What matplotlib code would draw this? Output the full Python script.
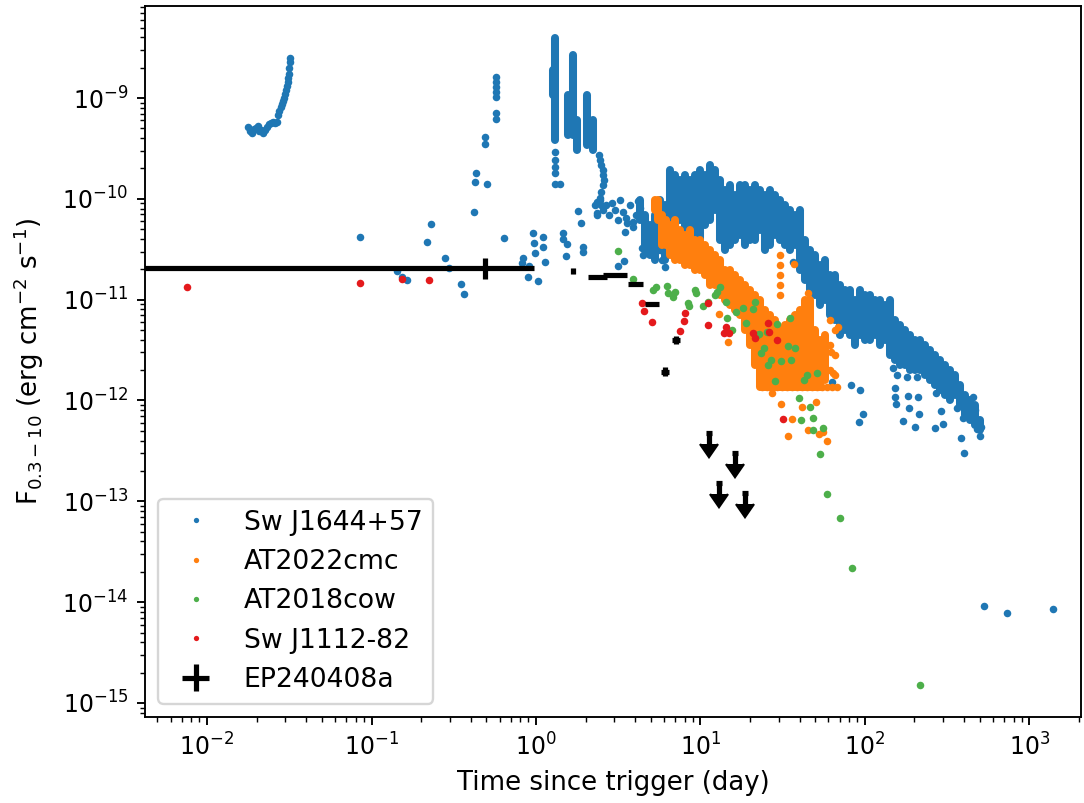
import numpy as np
import matplotlib
matplotlib.use('Agg')
import matplotlib.pyplot as plt

# ---------------- Sw J1644+57 (blue) ----------------
# early rise (< 0.04 d)
sw_early_t = [0.0178, 0.0183, 0.0188, 0.0193, 0.0199, 0.0204, 0.0207, 0.0213, 0.0219, 0.0225,
              0.0232, 0.0238, 0.0245, 0.0252, 0.0259, 0.0267, 0.0270, 0.0274, 0.0282, 0.0286,
              0.0290, 0.0294, 0.0298, 0.0302, 0.0306, 0.0311, 0.0311, 0.0315, 0.0315, 0.0320, 0.0320]
sw_early_f = [5.16e-10, 4.71e-10, 4.50e-10, 4.93e-10, 5.04e-10, 5.27e-10, 4.71e-10, 4.82e-10, 4.50e-10, 4.82e-10,
              5.16e-10, 5.52e-10, 5.65e-10, 5.78e-10, 5.65e-10, 5.78e-10, 6.78e-10, 7.43e-10, 8.15e-10, 8.71e-10,
              9.33e-10, 1.00e-9, 1.10e-9, 1.20e-9, 1.32e-9, 1.44e-9, 1.58e-9, 1.73e-9, 1.99e-9, 2.28e-9, 2.49e-9]

# scattered points 0.08 - 6 d
sw_sparse_t = [0.0851, 0.143, 0.153, 0.164, 0.217, 0.230, 0.280, 0.296, 0.350, 0.365,
               0.420, 0.426, 0.432, 0.504, 0.490, 0.490, 0.571, 0.571, 0.571, 0.571,
               0.571, 0.571, 0.571, 0.639, 0.834, 0.822, 0.894, 0.906, 0.959, 0.972,
               0.986, 1.03, 1.10, 1.10, 1.13, 1.40, 1.80, 1.88, 1.93, 1.93,
               1.46, 1.46, 1.54, 1.52, 3.48, 3.14, 3.42, 2.35, 2.35, 3.57,
               3.89, 4.41, 4.47, 4.93, 5.14, 5.67, 5.84, 6.08,
               1.31, 1.31, 1.31, 1.31, 1.31]
sw_sparse_f = [4.18e-11, 1.92e-11, 1.68e-11, 1.57e-11, 3.73e-11, 5.62e-11, 2.59e-11, 2.06e-11, 1.43e-11, 1.14e-11,
               7.40e-11, 1.47e-10, 1.80e-10, 1.40e-10, 4.10e-10, 3.50e-10, 1.61e-9, 1.44e-9, 1.29e-9, 1.15e-9,
               1.02e-9, 7.09e-10, 6.18e-10, 4.08e-11, 2.59e-11, 2.31e-11, 1.68e-11, 2.16e-11, 4.58e-11, 3.65e-11,
               2.90e-11, 1.53e-11, 4.18e-11, 3.33e-11, 2.38e-11, 1.40e-10, 7.57e-11, 5.75e-11, 3.33e-11, 2.95e-11,
               4.58e-11, 4.00e-11, 3.57e-11, 2.72e-11, 4.68e-11, 2.16e-11, 2.43e-11, 9.30e-11, 6.90e-11, 5.75e-11,
               5.20e-11, 3.25e-11, 2.77e-11, 2.90e-11, 3.75e-11, 3.11e-11, 2.47e-11, 2.10e-11,
               2.91e-10, 2.43e-10, 2.07e-10, 1.80e-10, 1.40e-10]

# decay after the flares (2.3 - 4.3 d)
sw_decay_t = [2.42, 2.45, 2.50, 2.55, 2.55, 2.60, 2.55, 2.50, 2.45, 2.50,
              2.28, 2.35, 2.45, 2.55, 2.66, 2.78, 2.90, 3.02, 3.15, 3.24,
              3.38, 3.52, 3.73, 3.89, 4.05, 4.17, 4.29]
sw_decay_f = [2.72e-10, 2.43e-10, 2.17e-10, 1.93e-10, 1.72e-10, 1.54e-10, 1.37e-10, 1.17e-10, 9.73e-11, 8.68e-11,
              8.68e-11, 7.23e-11, 1.02e-10, 7.75e-11, 8.68e-11, 6.91e-11, 9.09e-11, 7.75e-11, 6.17e-11, 9.73e-11,
              7.40e-11, 6.46e-11, 8.68e-11, 5.89e-11, 6.91e-11, 9.50e-11, 8.11e-11]

# densely sampled visits: flux range covered by the points of each visit
sw_visit_t = [1.27, 1.31, 1.57, 1.68, 1.77, 2.04, 2.22,
              4.29, 4.60, 4.93, 5.29, 5.67, 6.08, 6.53, 7.00, 7.50, 8.05,
              8.63, 9.26, 9.93, 10.6, 11.4, 12.2, 13.1, 14.1, 15.1, 16.2,
              17.4, 18.7, 20.0, 21.4, 23.0, 24.7, 26.4, 28.4, 30.4, 32.6,
              35.0, 37.5, 40.3, 43.2, 46.3, 49.7, 53.2, 57.1, 61.3, 65.7,
              70.5, 75.6, 81.1, 86.9, 93.3, 100, 107, 115, 123, 132,
              142, 152, 163, 175, 188, 201, 216, 232, 248, 267,
              286, 306, 329, 352, 378, 405, 435, 467, 500]
sw_visit_hi = [1.90e-9, 3.94e-9, 1.07e-9, 2.67e-9, 6.05e-10, 1.07e-9, 6.05e-10,
               9.73e-11, 6.91e-11, 5.50e-11, 6.91e-11, 9.73e-11, 8.68e-11, 1.93e-10, 1.72e-10, 1.54e-10, 1.72e-10,
               1.54e-10, 1.72e-10, 1.93e-10, 1.72e-10, 2.17e-10, 1.93e-10, 1.54e-10, 1.22e-10, 1.37e-10, 1.09e-10,
               1.37e-10, 1.37e-10, 1.22e-10, 1.37e-10, 1.22e-10, 1.09e-10, 1.22e-10, 1.09e-10, 9.73e-11, 8.68e-11,
               7.75e-11, 6.91e-11, 7.75e-11, 3.91e-11, 3.11e-11, 2.77e-11, 2.21e-11, 2.47e-11, 1.76e-11, 1.76e-11,
               1.40e-11, 1.25e-11, 1.25e-11, 9.93e-12, 1.25e-11, 1.11e-11, 1.11e-11, 9.93e-12, 9.93e-12, 8.85e-12,
               9.93e-12, 6.28e-12, 5.61e-12, 5.00e-12, 4.46e-12, 3.98e-12, 3.98e-12, 3.55e-12, 3.17e-12, 2.82e-12,
               2.52e-12, 2.25e-12, 2.00e-12, 1.79e-12, 1.43e-12, 1.13e-12, 1.01e-12, 9.02e-13, 6.41e-13]
sw_visit_lo = [1.07e-9, 3.83e-10, 4.30e-10, 4.30e-10, 3.05e-10, 3.42e-10, 3.05e-10,
               6.17e-11, 3.11e-11, 2.77e-11, 2.47e-11, 3.11e-11, 2.47e-11, 4.91e-11, 5.50e-11, 6.17e-11, 4.91e-11,
               3.91e-11, 3.11e-11, 3.48e-11, 5.50e-11, 6.17e-11, 7.75e-11, 3.91e-11, 3.11e-11, 3.48e-11, 3.91e-11,
               4.38e-11, 3.48e-11, 3.91e-11, 3.91e-11, 4.91e-11, 3.11e-11, 3.48e-11, 4.38e-11, 3.91e-11, 3.48e-11,
               3.11e-11, 3.48e-11, 1.97e-11, 1.57e-11, 1.25e-11, 1.11e-11, 8.85e-12, 9.93e-12, 7.04e-12, 6.28e-12,
               4.46e-12, 5.00e-12, 4.46e-12, 3.55e-12, 4.46e-12, 3.98e-12, 3.98e-12, 4.46e-12, 3.55e-12, 3.98e-12,
               2.82e-12, 2.52e-12, 2.25e-12, 2.25e-12, 2.00e-12, 2.00e-12, 2.00e-12, 1.79e-12, 1.60e-12, 1.43e-12,
               1.27e-12, 1.13e-12, 1.01e-12, 1.13e-12, 9.02e-13, 7.18e-13, 6.41e-13, 5.71e-13, 5.10e-13]

# late-time scattered points
sw_tail_t = [36.5, 62.9, 82.0, 93.3, 91.8, 97.1, 148, 156, 180, 152,
             152, 154, 182, 185, 170, 201, 214, 210, 206, 267,
             290, 298, 270, 362, 381, 400, 435, 453, 467, 480,
             500, 507, 416, 394, 530, 731, 1385]
sw_tail_f = [2.38e-11, 1.54e-12, 1.43e-12, 1.27e-12, 6.1e-13, 7.3e-13, 2.1e-12, 1.8e-12, 1.7e-12, 1.33e-12,
             1.08e-12, 9.2e-13, 1.1e-12, 8.5e-13, 6.3e-13, 5.5e-13, 7.3e-13, 1.08e-12, 1.7e-12, 5.3e-13,
             7.9e-13, 5.8e-13, 1.2e-12, 8.5e-13, 4.2e-13, 3.0e-13, 8.0e-13, 1.08e-12, 8.0e-13, 5.2e-13,
             4.4e-13, 5.4e-13, 7.1e-13, 6.7e-13, 9.16e-15, 7.80e-15, 8.55e-15]

# ---------------- AT2022cmc (orange) ----------------
cmc_visit_t = [5.29, 5.52, 5.84, 6.17, 6.53, 7.00, 7.50, 8.05, 8.63, 9.26,
               9.93, 10.6, 11.4, 12.2, 13.1, 14.1, 15.1, 16.2, 17.4, 18.7,
               20.0, 21.4, 23.0, 24.7, 26.4, 28.4, 30.4, 32.6, 35.0, 37.5,
               40.3, 43.2, 46.3, 49.7, 53.2, 57.1]
cmc_visit_hi = [9.73e-11, 9.73e-11, 6.91e-11, 6.17e-11, 5.50e-11, 6.17e-11, 4.91e-11, 4.38e-11, 4.91e-11, 3.91e-11,
                3.91e-11, 3.48e-11, 3.11e-11, 2.77e-11, 2.47e-11, 1.97e-11, 1.97e-11, 1.76e-11, 1.57e-11, 1.40e-11,
                1.25e-11, 1.11e-11, 9.93e-12, 7.89e-12, 7.04e-12, 6.28e-12, 5.00e-12, 5.61e-12, 6.28e-12, 7.04e-12,
                7.89e-12, 9.93e-12, 9.93e-12, 5.00e-12, 3.98e-12, 4.46e-12]
cmc_visit_lo = [7.75e-11, 6.17e-11, 3.48e-11, 3.48e-11, 2.77e-11, 2.47e-11, 2.47e-11, 2.21e-11, 2.21e-11, 1.97e-11,
                1.97e-11, 1.76e-11, 1.40e-11, 1.40e-11, 1.11e-11, 9.93e-12, 8.85e-12, 7.89e-12, 7.04e-12, 5.00e-12,
                3.55e-12, 2.25e-12, 1.36e-12, 1.36e-12, 1.36e-12, 1.36e-12, 1.36e-12, 1.36e-12, 1.36e-12, 1.36e-12,
                1.36e-12, 1.36e-12, 1.36e-12, 1.36e-12, 1.36e-12, 1.60e-12]
cmc_t = [12.9, 14.7, 27.2, 30.9, 36.0, 41.4, 45.0, 50.4, 52.6, 55.5,
         34.1, 58.7, 68.3, 62.2, 63.7, 45.0, 36.9,
         30.4, 30.4, 30.4, 30.4, 30.4, 61.3, 61.3, 61.3, 65.7, 65.7, 65.7,
         23.6, 25.4, 27.2, 29.2, 31.3, 33.5, 36.0, 38.6, 41.4, 44.4,
         47.6, 51.1, 54.8, 58.7, 63.0, 67.6]
cmc_f = [7.2e-12, 3.8e-12, 1.19e-12, 9.23e-13, 6.55e-13, 8.59e-13, 5.10e-13, 9.66e-13, 4.64e-13, 4.87e-13,
         4.44e-13, 3.97e-13, 5.36e-12, 3.00e-12, 1.86e-12, 1.17e-11, 2.26e-11,
         2.77e-11, 2.21e-11, 1.76e-11, 1.40e-11, 1.11e-11, 6.28e-12, 3.55e-12, 2.00e-12, 5.00e-12, 2.82e-12, 1.79e-12,
         1.36e-12, 1.36e-12, 1.36e-12, 1.36e-12, 1.36e-12, 1.36e-12, 1.36e-12, 1.36e-12, 1.36e-12, 1.36e-12,
         1.36e-12, 1.36e-12, 1.36e-12, 1.36e-12, 1.36e-12, 1.36e-12]

# ---------------- AT2018cow (green) ----------------
cow_t = [3.15, 3.89, 5.14, 5.36, 6.26, 6.35, 6.80, 7.00, 8.39, 8.51,
         9.26, 9.39, 10.4, 11.1, 12.2, 12.6, 13.1, 14.3, 14.5, 15.5,
         16.4, 18.1, 18.9, 20.8, 21.4, 22.7, 23.3, 24.3, 25.7, 26.8,
         28.4, 30.9, 34.1, 35.6, 37.5, 39.7, 42.5, 44.4, 46.3, 48.4,
         40.8, 48.4, 55.5, 53.2, 51.1, 25.4, 29.2, 35.0, 22.1, 58.7,
         70.5, 83.4, 216]
cow_f = [3.04e-11, 1.60e-11, 1.25e-11, 1.34e-11, 1.37e-11, 1.16e-11, 1.06e-11, 1.19e-11, 9.27e-12, 8.65e-12,
         1.25e-11, 1.16e-11, 8.65e-12, 9.5e-12, 1.11e-11, 1.19e-11, 1.34e-11, 9.5e-12, 6.58e-12, 5.00e-12,
         7.6e-12, 8.3e-12, 5.9e-12, 8.1e-12, 9.5e-12, 4.6e-12, 2.95e-12, 3.35e-12, 2.25e-12, 2.52e-12,
         1.57e-12, 2.47e-12, 3.5e-12, 2.52e-12, 3.35e-12, 1.07e-12, 1.60e-12, 1.79e-12, 8.59e-13, 6.75e-13,
         6.41e-13, 5.10e-13, 5.3e-13, 2.95e-13, 1.86e-12, 4.8e-12, 5.7e-12, 6.6e-12, 4.5e-12, 1.18e-13,
         6.84e-14, 2.18e-14, 1.51e-15]

# ---------------- Sw J1112-82 (red) ----------------
j1112_t = [0.00755, 0.0851, 0.153, 0.224, 4.41, 4.53, 5.06, 8.05, 7.95, 7.50,
           11.1, 11.1, 14.3, 13.9, 14.9, 20.8, 21.4, 25.7, 26.2, 29.2, 31.6]
j1112_f = [1.34e-11, 1.46e-11, 1.60e-11, 1.57e-11, 9.3e-12, 7.7e-12, 6.0e-12, 7.4e-12, 6.1e-12, 4.9e-12,
           9.3e-12, 5.6e-12, 5.3e-12, 4.7e-12, 4.7e-12, 4.7e-12, 4.2e-12, 5.9e-12, 4.8e-12, 4.0e-12, 6.6e-13]

# ---------------- EP240408a (black) ----------------
ep_t = [0.49, 1.68, 2.35, 3.02, 4.00, 5.07, 7.10, 6.08]
ep_t_lo = [1e-4, 1.63, 2.07, 2.55, 3.63, 4.60, 6.71, 5.78]   # first bin starts at trigger
ep_t_hi = [0.97, 1.73, 2.70, 3.57, 4.47, 5.60, 7.50, 6.44]
ep_f = [2.06e-11, 1.92e-11, 1.68e-11, 1.76e-11, 1.43e-11, 9.05e-12, 3.98e-12, 1.92e-12]
ep_f_lo = [1.60e-11, 1.78e-11, 1.63e-11, 1.71e-11, 1.39e-11, 8.8e-12, 3.6e-12, 1.73e-12]
ep_f_hi = [2.60e-11, 2.07e-11, 1.73e-11, 1.81e-11, 1.47e-11, 9.3e-12, 4.4e-12, 2.13e-12]

# upper limits
ul_t = [11.3, 16.2, 12.9, 18.6]
ul_dt = [0.49, 0.70, 0.55, 0.80]
ul_f = [4.76e-13, 3.0e-13, 1.52e-13, 1.21e-13]


sw_t = sw_early_t + sw_sparse_t + sw_decay_t + sw_tail_t
sw_f = sw_early_f + sw_sparse_f + sw_decay_f + sw_tail_f

fig = plt.figure(figsize=(1084 / 170, 803 / 170), dpi=170)
ax = fig.add_axes([0.1338, 0.1071, 0.8634, 0.8854])

ms = 3.2
dot = dict(marker='o', linestyle='none', ms=ms, mew=0)
band = dict(linewidth=3.4, capstyle='round')

ax.vlines(sw_visit_t, sw_visit_lo, sw_visit_hi, color='#1f77b4', **band)
ax.plot(sw_t, sw_f, color='#1f77b4', label='Sw J1644+57', **dot)
ax.vlines(cmc_visit_t, cmc_visit_lo, cmc_visit_hi, color='#ff7f0e', **band)
ax.plot(cmc_t, cmc_f, color='#ff7f0e', label='AT2022cmc', **dot)
ax.plot(cow_t, cow_f, color='#4daf4a', label='AT2018cow', **dot)
ax.plot(j1112_t, j1112_f, color='#e41a1c', label='Sw J1112-82', **dot)

ep_t = np.array(ep_t)
ep_f = np.array(ep_f)
xerr = [ep_t - np.array(ep_t_lo), np.array(ep_t_hi) - ep_t]
yerr = [ep_f - np.array(ep_f_lo), np.array(ep_f_hi) - ep_f]
ax.errorbar(ep_t, ep_f, xerr=xerr, yerr=yerr, fmt='none', ecolor='k',
            elinewidth=2.2, capsize=0, label='EP240408a', zorder=5)

ul_f = np.array(ul_f)
ax.errorbar(ul_t, ul_f, xerr=ul_dt, fmt='none', ecolor='k', elinewidth=2.2, capsize=0, zorder=5)
ul = ax.errorbar(ul_t, ul_f, yerr=0.22 * ul_f, uplims=True, fmt='none', ecolor='k',
                 elinewidth=2.2, capsize=0, zorder=5)
for cap in ul[1]:
    cap.set_markersize(7.6)
    cap.set_markerfacecolor('k')
    cap.set_markeredgecolor('k')
    cap.set_markeredgewidth(1.0)

ax.set_xscale('log')
ax.set_yscale('log')
ax.set_xlim(4.2e-3, 2056)
ax.set_ylim(7.26e-16, 8.17e-9)
ax.tick_params(labelsize=10)
ax.set_xlabel('Time since trigger (day)', fontsize=11)
ax.set_ylabel(r'F$_{0.3-10}$ (erg cm$^{-2}$ s$^{-1}$)', fontsize=11, labelpad=7)
ax.legend(loc='lower left', fontsize=11.3, markerscale=0.7)

fig.savefig('out.png', dpi=170)
